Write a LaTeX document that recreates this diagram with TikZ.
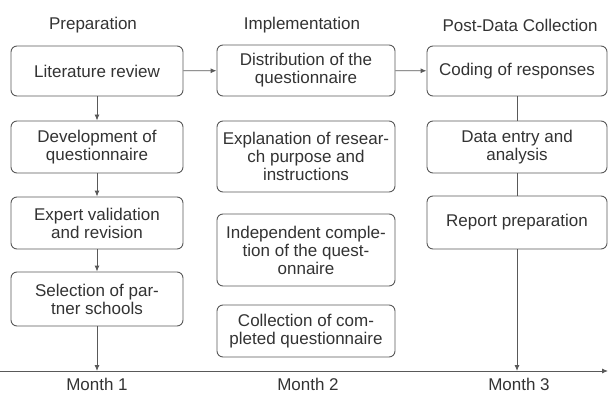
\documentclass[tikz,border=0pt]{standalone}
\usepackage{fontspec}
\setmainfont{Liberation Sans}
\usetikzlibrary{arrows.meta}

\begin{document}
\begin{tikzpicture}[x=1pt,y=-1pt,>={Latex[length=6pt,width=5pt]},
    every node/.style={font=\fontsize{17}{18}\selectfont,text=black!80},
    box/.style={draw=black!65,line width=0.9pt,rounded corners=6pt,
                align=center,inner sep=2pt,fill=white},
    colA/.style={box,minimum width=172pt},
    colB/.style={box,minimum width=178pt},
    colC/.style={box,minimum width=180pt},
    link/.style={draw=black!65,line width=0.9pt}]
     \useasboundingbox (0,0) rectangle (609,398);
     % column headings
     \node (hA) at ( 93,25) {Preparation};
     \node (hB) at (302,25) {Implementation};
     \node (hC) at (520,25) {Post-Data Collection};
     % preparation
     \node[colA,minimum height=50pt] (lit) at (97,71)  {Literature review};
     \node[colA,minimum height=52pt] (dev) at (97,147) {Development of\\questionnaire};
     \node[colA,minimum height=52pt] (exp) at (97,223) {Expert validation\\and revision};
     \node[colA,minimum height=54pt] (sel) at (97,299) {Selection of par-\\tner schools};
     % implementation
     \node[colB,minimum height=51pt] (dist) at (306,70.5) {Distribution of the\\questionnaire};
     \node[colB,minimum height=71pt] (expl) at (306,156.5) {Explanation of resear-\\ch purpose and\\instructions};
     \node[colB,minimum height=72pt] (ind)  at (306,250)  {Independent comple-\\tion of the quest-\\onnaire};
     \node[colB,minimum height=52pt] (coll) at (306,331)  {Collection of com-\\pleted questionnaire};
     % post-data collection
     \node[colC,minimum height=50pt] (cod) at (517,71)    {Coding of responses};
     \node[colC,minimum height=52pt] (ent) at (517,147)   {Data entry and\\analysis};
     \node[colC,minimum height=53pt] (rep) at (517,222.5) {Report preparation};
     % time axis
     \coordinate (t0) at (0,371);
     \coordinate (t1) at (608,371);
     \coordinate (m1) at (97,371);
     \coordinate (m3) at (517,371);
     \draw[link,->] (t0) -- (t1);
     \node (mA) at ( 97,384) {Month 1};
     \node (mB) at (308,384) {Month 2};
     \node (mC) at (519,384) {Month 3};
     % connectors
     \draw[link,->] (lit) -- (dev);
     \draw[link,->] (dev) -- (exp);
     \draw[link,->] (exp) -- (sel);
     \draw[link,->] (sel) -- (m1);
     \draw[link,->] (lit) -- (dist);
     \draw[link,->] (dist) -- (cod);
     \draw[link] (cod) -- (ent);
     \draw[link] (ent) -- (rep);
     \draw[link,->] (rep) -- (m3);
\end{tikzpicture}
\end{document}
